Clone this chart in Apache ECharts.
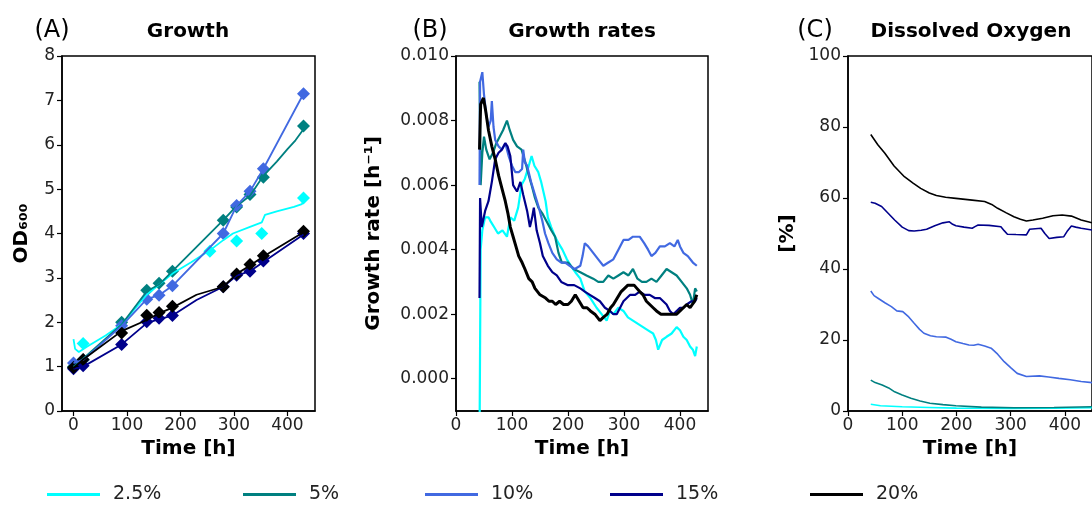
<!DOCTYPE html>
<html>
<head>
    <meta charset="utf-8">
    <title>Growth / growth rates / dissolved oxygen</title>
    <script src="https://cdn.jsdelivr.net/npm/echarts@6/dist/echarts.min.js"></script>
    <style>
        body { margin: 0; background: #fff; }
        #main { width: 1092px; height: 506px; }
    </style>
</head>
<body>
    <div id="main"></div>
    <script type="text/javascript">
        // series names + colours
        var concs = ['2.5%', '5%', '10%', '15%', '20%'];
        var colors = ['#00ffff', '#008080', '#4169e1', '#00008b', '#000000'];

        // (A) OD600 - measured points (diamonds)
        var odPts25 = [[18, 1.52], [255, 3.6], [305, 3.83], [352, 4.0], [430, 4.8]];
        var odPts5 = [[0, 1.0], [18, 1.15], [90, 2.0], [137, 2.72], [160, 2.88], [185, 3.15], [280, 4.3], [305, 4.6], [330, 4.88], [355, 5.27], [430, 6.42]];
        var odPts10 = [[0, 1.08], [18, 1.15], [90, 1.92], [137, 2.52], [160, 2.61], [185, 2.82], [280, 4.0], [305, 4.63], [330, 4.95], [355, 5.46], [430, 7.15]];
        var odPts15 = [[0, 0.95], [18, 1.02], [90, 1.5], [137, 2.01], [160, 2.09], [185, 2.15], [280, 2.8], [305, 3.06], [330, 3.15], [355, 3.38], [430, 4.0]];
        var odPts20 = [[0, 0.98], [18, 1.16], [90, 1.76], [137, 2.16], [160, 2.22], [185, 2.36], [280, 2.8], [305, 3.09], [330, 3.3], [355, 3.5], [430, 4.05]];

        // (A) OD600 - continuous lines
        var odLine25 = [[0, 1.62], [3, 1.4], [10, 1.33], [25, 1.45], [60, 1.7], [90, 1.95], [137, 2.62], [185, 3.1], [220, 3.35], [255, 3.62], [280, 3.85], [298, 4.0], [330, 4.15], [352, 4.25], [358, 4.42], [380, 4.5], [412, 4.6], [427, 4.66], [430, 4.75]];
        var odLine5 = [[0, 1.0], [18, 1.18], [90, 1.95], [137, 2.7], [160, 2.85], [185, 3.15], [280, 4.3], [305, 4.62], [330, 4.85], [355, 5.3], [380, 5.62], [400, 5.9], [415, 6.1], [430, 6.35]];
        var odLine10 = odPts10;
        var odLine15 = [[0, 0.95], [18, 1.0], [90, 1.5], [137, 1.98], [160, 2.07], [185, 2.15], [230, 2.5], [280, 2.8], [305, 3.05], [330, 3.15], [355, 3.36], [430, 3.98]];
        var odLine20 = [[0, 0.97], [18, 1.16], [90, 1.8], [137, 2.05], [160, 2.2], [185, 2.33], [230, 2.62], [280, 2.8], [305, 3.09], [330, 3.28], [355, 3.48], [430, 4.03]];

        // (B) growth rate [1/h]
        var mu25 = [[42, -0.002], [44, 0.0040], [47, 0.0046], [52, 0.0050], [58, 0.0050], [61, 0.0049], [68, 0.0047], [75, 0.0045], [83, 0.0046], [91, 0.0044], [97, 0.0050], [104, 0.0049], [111, 0.0053], [117, 0.0060], [123, 0.0062], [130, 0.0066], [135, 0.0069], [140, 0.0066], [147, 0.0064], [152, 0.0061], [156, 0.0058], [160, 0.0055], [164, 0.0050], [170, 0.0047], [177, 0.0044], [183, 0.0042], [190, 0.0040], [198, 0.0037], [205, 0.0035], [213, 0.0033], [222, 0.0031], [230, 0.0027], [240, 0.0025], [251, 0.0022], [260, 0.0020], [269, 0.0018], [275, 0.0021], [281, 0.0020], [290, 0.0022], [299, 0.0021], [307, 0.0019], [316, 0.0018], [325, 0.0017], [334, 0.0016], [343, 0.0015], [352, 0.0014], [357, 0.0012], [361, 0.0009], [368, 0.0012], [376, 0.0013], [385, 0.0014], [394, 0.0016], [400, 0.0015], [406, 0.0013], [412, 0.0012], [418, 0.0010], [423, 0.0009], [427, 0.0007], [430, 0.0010]];
        var mu5 = [[42, 0.0092], [44, 0.0060], [47, 0.0070], [50, 0.0075], [54, 0.0071], [60, 0.0068], [66, 0.0070], [72, 0.0073], [78, 0.0075], [84, 0.0077], [91, 0.0080], [96, 0.0077], [102, 0.0074], [109, 0.0072], [117, 0.0071], [124, 0.0067], [130, 0.0063], [135, 0.0060], [141, 0.0056], [147, 0.0053], [155, 0.0051], [164, 0.0048], [170, 0.0046], [177, 0.0044], [183, 0.0039], [189, 0.0036], [200, 0.0036], [210, 0.0034], [222, 0.0033], [233, 0.0032], [245, 0.0031], [254, 0.0030], [263, 0.0030], [272, 0.0032], [281, 0.0031], [290, 0.0032], [299, 0.0033], [308, 0.0032], [316, 0.0034], [324, 0.0031], [332, 0.0030], [340, 0.0030], [349, 0.0031], [358, 0.0030], [367, 0.0032], [376, 0.0034], [385, 0.0033], [394, 0.0032], [403, 0.0030], [412, 0.0028], [418, 0.0026], [423, 0.0023], [427, 0.0028], [430, 0.0027]];
        var mu10 = [[42, 0.0060], [43, 0.0092], [47, 0.0095], [50, 0.0088], [54, 0.0082], [58, 0.0078], [62, 0.0080], [64, 0.0086], [67, 0.0078], [70, 0.0074], [76, 0.0072], [82, 0.0071], [88, 0.0073], [94, 0.0069], [100, 0.0066], [106, 0.0064], [112, 0.0064], [118, 0.0065], [120, 0.0071], [123, 0.0067], [127, 0.0066], [134, 0.0061], [141, 0.0057], [148, 0.0053], [154, 0.0049], [159, 0.0045], [165, 0.0042], [172, 0.0039], [180, 0.0037], [188, 0.0036], [195, 0.0036], [203, 0.0035], [212, 0.0034], [222, 0.0035], [226, 0.0038], [230, 0.0042], [236, 0.0041], [245, 0.0039], [254, 0.0037], [263, 0.0035], [272, 0.0036], [281, 0.0037], [290, 0.0040], [299, 0.0043], [308, 0.0043], [316, 0.0044], [322, 0.0044], [328, 0.0044], [336, 0.0042], [343, 0.0040], [349, 0.0038], [356, 0.0039], [364, 0.0041], [373, 0.0041], [382, 0.0042], [390, 0.0041], [396, 0.0043], [400, 0.0041], [406, 0.0039], [414, 0.0038], [423, 0.0036], [430, 0.0035]];
        var mu15 = [[42, 0.0025], [43, 0.0056], [46, 0.0047], [52, 0.0052], [58, 0.0055], [64, 0.0061], [70, 0.0068], [76, 0.0070], [82, 0.0071], [88, 0.0073], [92, 0.0072], [97, 0.0069], [102, 0.0060], [109, 0.0058], [115, 0.0061], [120, 0.0057], [127, 0.0052], [132, 0.0047], [136, 0.0050], [139, 0.0053], [144, 0.0046], [150, 0.0042], [155, 0.0038], [164, 0.0035], [172, 0.0033], [180, 0.0032], [188, 0.0030], [200, 0.0029], [211, 0.0029], [222, 0.0028], [230, 0.0027], [239, 0.0026], [248, 0.0025], [257, 0.0024], [266, 0.0022], [275, 0.0021], [281, 0.0020], [287, 0.0020], [293, 0.0022], [299, 0.0024], [305, 0.0025], [311, 0.0026], [320, 0.0026], [328, 0.0027], [337, 0.0026], [346, 0.0026], [355, 0.0025], [364, 0.0025], [370, 0.0024], [376, 0.0023], [382, 0.0021], [388, 0.0020], [394, 0.0021], [400, 0.0022], [406, 0.0022], [412, 0.0023], [420, 0.0024], [427, 0.0024], [430, 0.0025]];
        var mu20 = [[42, 0.0071], [44, 0.0085], [49, 0.0087], [53, 0.0083], [58, 0.0077], [64, 0.0072], [70, 0.0068], [76, 0.0063], [82, 0.0059], [88, 0.0055], [93, 0.0051], [97, 0.0047], [102, 0.0044], [107, 0.0041], [112, 0.0038], [118, 0.0036], [123, 0.0034], [130, 0.0031], [136, 0.0030], [141, 0.0028], [150, 0.0026], [160, 0.0025], [166, 0.0024], [172, 0.0024], [178, 0.0023], [185, 0.0024], [192, 0.0023], [200, 0.0023], [206, 0.0024], [213, 0.0026], [220, 0.0024], [227, 0.0022], [234, 0.0022], [240, 0.0021], [248, 0.0020], [257, 0.0018], [263, 0.0019], [270, 0.0020], [276, 0.0022], [281, 0.0023], [288, 0.0025], [295, 0.0027], [301, 0.0028], [307, 0.0029], [313, 0.0029], [318, 0.0029], [323, 0.0028], [328, 0.0027], [334, 0.0026], [340, 0.0024], [346, 0.0023], [352, 0.0022], [358, 0.0021], [366, 0.0020], [375, 0.0020], [382, 0.0020], [388, 0.0020], [394, 0.0020], [400, 0.0021], [406, 0.0022], [412, 0.0023], [418, 0.0022], [422, 0.0023], [426, 0.0024], [430, 0.0026]];

        // (C) dissolved oxygen [%]
        var do25 = [[42, 1.9], [60, 1.5], [100, 1.2], [150, 1.0], [200, 0.8], [300, 0.7], [380, 0.8], [450, 0.9]];
        var do5 = [[42, 8.7], [50, 8.0], [63, 7.3], [75, 6.5], [86, 5.4], [100, 4.5], [116, 3.6], [133, 2.8], [151, 2.2], [175, 1.8], [199, 1.5], [246, 1.1], [306, 0.9], [380, 1.0], [450, 1.2]];
        var do10 = [[42, 33.8], [48, 32.5], [56, 31.7], [68, 30.5], [80, 29.4], [90, 28.2], [101, 28.0], [112, 26.5], [122, 24.7], [132, 23.0], [140, 21.9], [152, 21.2], [163, 20.9], [181, 20.8], [190, 20.2], [199, 19.5], [212, 19.0], [223, 18.6], [232, 18.5], [240, 18.8], [252, 18.3], [264, 17.7], [276, 16.0], [288, 13.9], [300, 12.2], [312, 10.6], [329, 9.7], [353, 9.9], [370, 9.6], [389, 9.2], [410, 8.8], [430, 8.3], [450, 8.0]];
        var do15 = [[42, 58.8], [50, 58.5], [62, 57.6], [74, 55.7], [86, 53.8], [100, 51.8], [112, 50.8], [122, 50.7], [135, 50.9], [145, 51.2], [160, 52.2], [175, 53.0], [187, 53.3], [193, 52.6], [199, 52.2], [214, 51.8], [229, 51.5], [235, 52.0], [240, 52.4], [260, 52.3], [282, 51.9], [288, 50.8], [294, 49.8], [310, 49.7], [329, 49.6], [335, 51.2], [356, 51.5], [363, 50.0], [371, 48.6], [385, 48.9], [398, 49.1], [405, 50.8], [412, 52.1], [420, 51.8], [430, 51.5], [450, 51.0]];
        var do20 = [[42, 77.9], [55, 75.0], [68, 72.6], [85, 69.0], [104, 66.0], [120, 64.2], [134, 62.7], [150, 61.4], [163, 60.7], [180, 60.2], [199, 59.9], [229, 59.4], [252, 59.0], [265, 58.2], [276, 57.1], [292, 55.8], [306, 54.7], [318, 54.0], [329, 53.5], [341, 53.8], [359, 54.3], [378, 55.0], [395, 55.2], [412, 54.9], [430, 53.8], [450, 53.0]];

        var odPts = [odPts25, odPts5, odPts10, odPts15, odPts20];
        var odLines = [odLine25, odLine5, odLine10, odLine15, odLine20];
        var muLines = [mu25, mu5, mu10, mu15, mu20];
        var doLines = [do25, do5, do10, do15, do20];

        var timeTicks = [0, 100, 200, 300, 400];
        var odTicks = [0, 1, 2, 3, 4, 5, 6, 7, 8];
        var muTicks = [0, 0.002, 0.004, 0.006, 0.008, 0.010];
        var doTicks = [0, 20, 40, 60, 80, 100];

        var FONT = 'DejaVu Sans';
        var myChart = echarts.init(document.getElementById('main'));

        function xAx(grid, min, max) {
            return {
                type: 'value', gridIndex: grid, min: min, max: max,
                name: 'Time [h]', nameLocation: 'middle', nameGap: 27,
                nameTextStyle: { fontFamily: FONT, fontWeight: 'bold', fontSize: 20, color: '#000' },
                axisLine: { show: true, onZero: false, lineStyle: { color: '#000', width: 1.5 } },
                axisTick: { show: true, length: 5, customValues: timeTicks, lineStyle: { color: '#000', width: 1.2 } },
                axisLabel: { customValues: timeTicks, fontFamily: FONT, fontSize: 17, color: '#222', margin: 6 },
                splitLine: { show: false }
            };
        }
        function yAx(grid, min, max, ticks, name, gap, fmt) {
            return {
                type: 'value', gridIndex: grid, min: min, max: max,
                name: name, nameLocation: 'middle', nameGap: gap, nameRotate: 90,
                nameTextStyle: { fontFamily: FONT, fontWeight: 'bold', fontSize: 20, color: '#000' },
                axisLine: { show: true, onZero: false, lineStyle: { color: '#000', width: 1.5 } },
                axisTick: { show: true, length: 5, customValues: ticks, lineStyle: { color: '#000', width: 1.2 } },
                axisLabel: { customValues: ticks, formatter: fmt, fontFamily: FONT, fontSize: 17, color: '#222', margin: 7 },
                splitLine: { show: false }
            };
        }

        var series = [];
        for (var i = 0; i < 5; i++) {
            series.push({
                name: concs[i], type: 'line', xAxisIndex: 0, yAxisIndex: 0,
                data: odLines[i], showSymbol: false, color: colors[i],
                lineStyle: { width: 1.8, color: colors[i] }
            });
            series.push({
                name: concs[i], type: 'scatter', xAxisIndex: 0, yAxisIndex: 0,
                data: odPts[i], symbol: 'diamond', symbolSize: 13,
                itemStyle: { color: colors[i], opacity: 1 }
            });
        }
        // growth rates: noisy traces look like thick bands
        for (var i = 0; i < 5; i++) {
            series.push({
                name: concs[i], type: 'line', xAxisIndex: 1, yAxisIndex: 1,
                data: muLines[i], showSymbol: false, color: colors[i],
                lineStyle: { width: i === 4 ? 3 : 2.2, color: colors[i] }
            });
        }
        for (var i = 0; i < 5; i++) {
            series.push({
                name: concs[i], type: 'line', xAxisIndex: 2, yAxisIndex: 2,
                data: doLines[i], showSymbol: false, color: colors[i],
                lineStyle: { width: 1.6, color: colors[i] }
            });
        }

        var legendLeft = [42, 238, 420, 605, 805];
        var legends = concs.map(function (c, k) {
            return {
                data: [c], left: legendLeft[k], top: 480,
                icon: 'rect', itemWidth: 53, itemHeight: 3,
                selectedMode: false,
                textStyle: { fontFamily: FONT, fontSize: 19, color: '#222', padding: [0, 0, 0, 8] }
            };
        });

        function txt(x, y, s, bold, size) {
            return {
                type: 'text', x: x, y: y,
                style: { text: s, align: 'center', verticalAlign: 'middle', fill: '#000',
                         font: (bold ? 'bold ' : '') + size + 'px ' + FONT }
            };
        }

        var option = {
            animation: false,
            backgroundColor: '#fff',
            grid: [
                { left: 62, top: 56, width: 253, height: 355, show: true, borderColor: '#000', borderWidth: 1.5 },
                { left: 456, top: 56, width: 252, height: 355, show: true, borderColor: '#000', borderWidth: 1.5 },
                { left: 848, top: 56, width: 253, height: 355, show: true, borderColor: '#000', borderWidth: 1.5 }
            ],
            xAxis: [xAx(0, -21.5, 451.5), xAx(1, 0, 450), xAx(2, 0, 450)],
            yAxis: [
                yAx(0, 0, 8, odTicks, 'OD₆₀₀', 30),
                yAx(1, -0.001, 0.010, muTicks, 'Growth rate [h⁻¹]', 72, function (v) { return v.toFixed(3); }),
                yAx(2, 0, 100, doTicks, '[%]', 50)
            ],
            legend: legends,
            graphic: [
                txt(52, 31, '(A)', false, 24),
                txt(188, 32, 'Growth', true, 20),
                txt(430, 31, '(B)', false, 24),
                txt(582, 32, 'Growth rates', true, 20),
                txt(815, 31, '(C)', false, 24),
                txt(971, 32, 'Dissolved Oxygen', true, 20)
            ],
            series: series
        };
        myChart.setOption(option);
    </script>
</body>
</html>
